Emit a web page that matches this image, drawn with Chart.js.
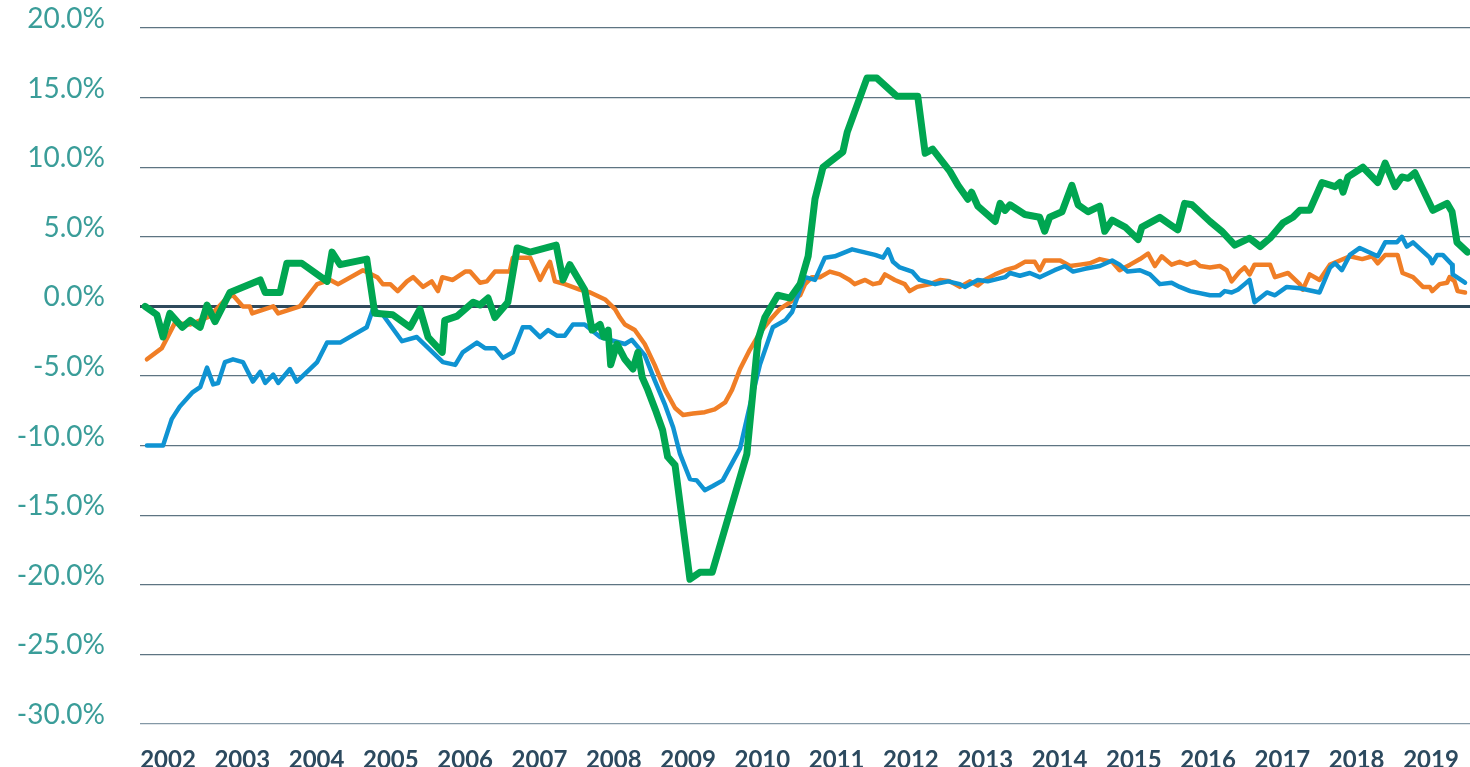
<!DOCTYPE html>
<html>
<head>
<meta charset="utf-8">
<script src="https://cdn.jsdelivr.net/npm/chart.js@4.4.0/dist/chart.umd.min.js"></script>
<style>
  html, body { margin: 0; padding: 0; background: #fff; }
  #wrap { width: 1470px; height: 767px; }
</style>
</head>
<body>
<div id="wrap"><canvas id="line-chart" width="1470" height="767"></canvas></div>
<script>
// x = months since Jan 2002, y = percent change
var yearLabels = ['2002','2003','2004','2005','2006','2007','2008','2009','2010','2011','2012','2013','2014','2015','2016','2017','2018','2019'];
var yTicks = [20, 15, 10, 5, 0, -5, -10, -15, -20, -25, -30];

var greenMonth = [-3.7,-1.8,-0.8,0.3,2.3,3.6,5.2,6.3,7.6,10.0,14.9,15.7,18.1,19.2,21.6,25.7,26.5,27.8,32.1,33.4,36.3,39.1,40.7,42.0,44.3,44.7,46.7,49.3,50.4,51.7,52.8,54.9,56.4,58.5,62.7,63.8,64.9,67.3,68.5,69.8,70.4,71.1,71.5,72.5,73.8,75.1,75.9,76.6,77.5,78.7,79.9,80.7,81.9,84.3,85.9,87.9,93.5,95.3,96.4,98.5,100.5,102.1,103.4,104.5,105.8,109.0,109.7,112.9,114.5,117.7,121.1,122.3,123.5,126.3,127.6,129.2,129.8,130.8,133.6,134.4,135.2,136.0,138.4,140.8,141.6,142.4,144.4,146.0,147.0,148.6,150.5,151.3,152.5,154.6,156.7,157.3,160.2,161.8,163.1,164.2,165.4,168.3,170.2,172.3,174.7,176.4,178.0,180.1,181.7,182.8,184.4,186.4,188.5,189.3,189.8,190.6,193.0,195.4,196.6,198.2,199.3,200.3,201.4,204.3,206.6,207.4,208.2,209.9];
var greenPct = [0.0,-0.6,-2.2,-0.5,-1.5,-1.0,-1.5,0.1,-1.1,1.0,1.9,1.0,1.0,3.1,3.1,1.8,3.9,3.0,3.4,-0.5,-0.6,-1.5,-0.2,-2.2,-3.3,-1.0,-0.7,0.3,0.1,0.6,-0.8,0.3,4.2,3.9,4.4,1.9,3.0,1.2,-1.7,-1.3,-2.2,-1.7,-4.2,-2.7,-3.8,-4.5,-3.3,-5.1,-6.0,-7.4,-8.9,-10.8,-11.4,-19.6,-19.1,-19.1,-10.6,-2.4,-0.8,0.8,0.6,1.6,3.6,7.7,10.0,11.1,12.5,16.4,16.4,15.1,15.1,11.0,11.3,9.7,8.7,7.7,8.2,7.2,6.1,7.4,6.9,7.3,6.6,6.4,5.4,6.4,6.8,8.7,7.3,6.8,7.2,5.4,6.2,5.7,4.8,5.7,6.4,5.9,5.5,7.4,7.3,6.1,5.4,4.4,4.9,4.3,4.9,6.0,6.4,6.9,6.9,8.9,8.6,8.9,8.2,9.3,10.0,8.9,10.3,8.6,9.3,9.2,9.6,6.9,7.4,6.8,4.6,3.9];

var blueMonth = [-3.4,-0.8,0.6,1.9,3.9,5.2,6.3,7.3,8.1,9.2,10.5,12.1,13.7,14.9,15.7,17.0,17.8,19.7,20.8,24.1,25.7,27.8,32.1,33.1,34.7,37.8,40.2,44.4,46.4,47.6,49.9,51.2,52.8,54.1,55.7,57.3,58.5,60.1,61.4,62.8,64.1,65.4,67.3,69.8,71.4,73.8,74.9,77.0,78.6,80.3,81.6,82.7,84.3,85.4,86.7,88.0,89.6,92.4,94.0,95.6,97.7,99.7,100.8,102.1,102.9,104.5,106.1,107.7,110.5,114.2,115.5,116.3,117.1,118.2,120.2,121.4,123.9,126.0,127.9,128.7,130.8,132.4,135.2,136.0,137.6,139.2,140.8,143.2,144.9,146.2,148.1,150.5,152.5,153.7,155.0,157.0,158.6,160.2,162.1,163.4,165.1,168.3,169.9,170.7,171.8,172.8,173.9,174.7,175.5,177.5,178.8,180.7,182.8,186.0,187.7,188.5,189.6,190.9,192.5,195.4,196.6,198.5,199.3,200.1,201.1,203.8,204.2,205.0,205.9,207.4,207.5,209.5];
var bluePct = [-10.0,-10.0,-8.1,-7.2,-6.2,-5.8,-4.4,-5.6,-5.5,-4.0,-3.8,-4.0,-5.4,-4.7,-5.5,-4.9,-5.5,-4.5,-5.4,-4.0,-2.6,-2.6,-1.5,-0.2,-0.6,-2.5,-2.2,-4.0,-4.2,-3.3,-2.6,-3.0,-3.0,-3.7,-3.3,-1.5,-1.5,-2.2,-1.7,-2.1,-2.1,-1.3,-1.3,-2.2,-2.4,-2.7,-2.4,-3.5,-5.3,-7.1,-8.7,-10.6,-12.4,-12.5,-13.2,-12.9,-12.5,-10.2,-7.1,-4.2,-1.5,-1.0,-0.4,1.2,2.1,1.9,3.5,3.6,4.1,3.7,3.5,4.1,3.2,2.8,2.5,1.9,1.6,1.8,1.6,1.4,1.9,1.8,2.1,2.4,2.2,2.4,2.1,2.6,2.9,2.5,2.7,2.9,3.3,3.0,2.5,2.6,2.3,1.6,1.7,1.4,1.1,0.8,0.8,1.1,1.0,1.2,1.6,1.9,0.3,1.0,0.8,1.4,1.3,1.0,2.8,3.1,2.6,3.7,4.2,3.6,4.6,4.6,5.0,4.3,4.6,3.5,3.1,3.7,3.7,3.0,2.3,1.7];

var orangeMonth = [-3.4,-1.0,1.1,3.6,6.8,9.5,10.5,12.1,13.2,13.6,17.0,17.8,21.3,24.1,26.2,27.5,31.5,33.8,34.7,35.9,37.1,38.6,39.6,41.2,42.6,43.6,44.3,46.0,48.0,48.8,50.4,51.5,52.8,55.2,55.7,58.5,60.1,60.9,61.7,62.5,64.1,66.5,68.2,70.6,72.2,73.0,73.8,75.4,77.0,78.6,80.3,81.9,83.2,84.8,86.7,88.3,90.0,91.1,92.4,94.0,95.6,97.2,98.8,100.5,102.1,102.9,104.0,105.3,106.9,108.5,110.1,110.9,112.6,113.9,115.0,115.8,117.4,119.0,119.8,121.0,123.1,124.7,126.3,127.9,129.5,130.8,131.9,133.6,135.2,136.8,138.4,140.0,140.8,141.6,144.1,145.7,147.3,148.9,150.5,152.5,153.7,155.4,157.0,158.3,159.4,160.5,162.1,163.4,164.6,165.9,166.7,168.3,169.9,171.0,171.8,173.1,173.9,174.7,175.5,178.0,178.8,180.9,182.8,183.3,184.4,186.0,187.7,190.9,192.9,194.5,195.4,196.6,198.6,199.4,201.1,202.7,203.8,204.2,205.4,206.6,207.0,207.8,208.3,209.5];
var orangePct = [-3.8,-3.0,-1.2,-1.3,-0.7,0.6,0.8,0.0,0.0,-0.5,0.0,-0.5,0.0,1.6,1.9,1.6,2.6,2.1,1.6,1.6,1.1,1.8,2.1,1.4,1.8,1.1,2.1,1.9,2.5,2.5,1.7,1.8,2.5,2.5,3.5,3.5,1.9,2.6,3.2,1.8,1.6,1.2,1.0,0.5,-0.2,-0.8,-1.3,-1.7,-2.7,-4.2,-6.0,-7.3,-7.8,-7.7,-7.6,-7.4,-6.9,-6.0,-4.5,-3.1,-1.9,-1.0,-0.2,0.3,0.8,1.6,2.1,2.1,2.5,2.3,1.9,1.6,1.9,1.6,1.7,2.3,1.9,1.6,1.1,1.4,1.6,1.9,1.8,1.4,1.8,1.5,1.9,2.3,2.6,2.8,3.2,3.2,2.6,3.3,3.3,2.9,3.0,3.1,3.4,3.2,2.6,3.0,3.4,3.8,2.9,3.6,3.0,3.2,3.0,3.2,2.9,2.8,2.9,2.6,1.8,2.5,2.8,2.3,3.0,3.0,2.1,2.4,1.6,1.2,2.3,1.9,3.0,3.6,3.4,3.6,3.1,3.7,3.7,2.4,2.1,1.4,1.4,1.1,1.6,1.7,2.1,1.8,1.1,1.0];

function pts(xs, ys) {
  return xs.map(function(x, i) { return { x: x, y: ys[i] }; });
}

var tealText = '#3a9d99';
var slateText = '#2c4a5f';

new Chart(document.getElementById('line-chart'), {
  type: 'line',
  data: {
    datasets: [{
      label: 'Green',
      data: pts(greenMonth, greenPct),
      borderColor: '#00a651',
      borderWidth: 7
    }, {
      label: 'Blue',
      data: pts(blueMonth, bluePct),
      borderColor: '#0f93d2',
      borderWidth: 4.5
    }, {
      label: 'Orange',
      data: pts(orangeMonth, orangePct),
      borderColor: '#f07e26',
      borderWidth: 4.5
    }]
  },
  options: {
    responsive: false,
    animation: false,
    events: [],
    layout: { padding: { top: 28, right: 0, left: 0, bottom: 0 } },
    elements: {
      point: { radius: 0 },
      line: { tension: 0, fill: false, borderJoinStyle: 'round', borderCapStyle: 'round' }
    },
    plugins: {
      legend: { display: false },
      title: { display: false },
      tooltip: { enabled: false }
    },
    scales: {
      x: {
        type: 'linear',
        min: -4.52,
        max: 210.3,
        grid: { display: false },
        border: { display: false },
        afterBuildTicks: function(axis) {
          axis.ticks = yearLabels.map(function(y, i) { return { value: i * 12 }; });
        },
        afterFit: function(axis) {
          axis.height = 43;
          axis.paddingLeft = 0;
          axis.paddingRight = 0;
        },
        ticks: {
          autoSkip: false,
          maxRotation: 0,
          padding: 14,
          color: slateText,
          font: { family: 'Lato', size: 24, weight: 'bold' },
          callback: function(v) { return yearLabels[Math.round(v / 12)]; }
        }
      },
      y: {
        min: -30,
        max: 20,
        afterBuildTicks: function(axis) {
          axis.ticks = yTicks.map(function(v) { return { value: v }; });
        },
        afterFit: function(axis) {
          axis.width = 140;
          axis.paddingTop = 0;
          axis.paddingBottom = 0;
        },
        border: { display: false },
        grid: {
          drawTicks: false,
          color: function(ctx) {
            if (ctx.tick && ctx.tick.value === 0) return '#2f4a5c';
            if (ctx.tick && ctx.tick.value === -30) return '#8498a6';
            return '#5e7482';
          },
          lineWidth: function(ctx) {
            return (ctx.tick && ctx.tick.value === 0) ? 3 : 1.3;
          }
        },
        ticks: {
          padding: 35,
          labelOffset: -9,
          color: tealText,
          font: { family: 'Lato', size: 28 },
          callback: function(v) { return v.toFixed(1) + '%'; }
        }
      }
    }
  }
});
</script>
</body>
</html>
